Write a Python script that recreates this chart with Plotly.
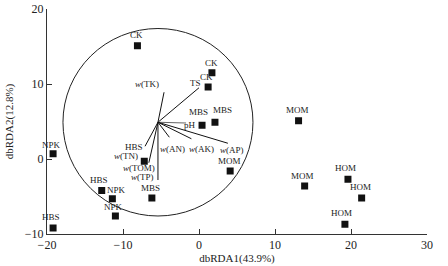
import plotly.graph_objects as go

# Sample points (dbRDA1, dbRDA2)
sample_labels = ["CK", "CK", "CK",
                 "MBS", "MBS", "MBS",
                 "MOM", "MOM", "MOM",
                 "HOM", "HOM", "HOM",
                 "NPK", "NPK", "NPK",
                 "HBS", "HBS", "HBS"]
sample_x = [-8.1, 1.7, 1.2,
            2.1, 0.4, -6.2,
            4.1, 13.1, 13.9,
            19.6, 21.4, 19.2,
            -19.2, -11.4, -11.0,
            -19.2, -12.8, -7.2]
sample_y = [15.1, 11.5, 9.6,
            4.9, 4.5, -5.2,
            -1.6, 5.1, -3.6,
            -2.7, -5.2, -8.7,
            0.7, -5.3, -7.6,
            -9.2, -4.2, -0.3]

# Environmental vectors (origin + tips)
vec_origin = (-5.4, 4.9)
vec_labels = ["<i>w</i>(TK)", "TS", "pH", "<i>w</i>(AN)", "<i>w</i>(AK)",
              "<i>w</i>(AP)", "<i>w</i>(TN)", "<i>w</i>(TOM)", "<i>w</i>(TP)"]
vec_x = [-4.6, 0.0, -1.7, -3.9, -1.0, 3.8, -7.1, -6.6, -5.4]
vec_y = [8.9, 9.5, 4.8, 2.9, 2.7, 2.1, 1.7, -0.5, -2.8]
circle_radius = 12.5

# label pixel offsets (style)
sample_off = [(-1, 11), (0, 10), (-2, 10),
              (8, 12), (-4, 13), (-1, 10),
              (-1, 10), (-1, 11), (-2, 10),
              (-2, 11), (-1, 11), (-3, 11),
              (-2, 9), (4, 9), (-2, 9),
              (-2, 11), (-3, 11), (-10, 14)]
vec_off = [(-17, 8), (-4, 5), (4, -2), (3, -12), (10, -10),
           (4, -7), (-19, -10), (-10, -5), (-15, 3)]

FONT = "Liberation Serif"
TXT = "#222222"

fig = go.Figure()

# vectors
for vx, vy, lab in zip(vec_x, vec_y, vec_labels):
    fig.add_trace(go.Scatter(
        x=[vec_origin[0], vx], y=[vec_origin[1], vy], mode="lines",
        line=dict(color="#666666" if lab == "pH" else "#111111", width=1),
        hoverinfo="skip", showlegend=False))

# samples
fig.add_trace(go.Scatter(
    x=sample_x, y=sample_y, mode="markers",
    marker=dict(symbol="square", size=7, color="#111111"),
    showlegend=False))

annotations = []
for x, y, t, (dx, dy) in zip(sample_x, sample_y, sample_labels, sample_off):
    annotations.append(dict(x=x, y=y, xref="x", yref="y", text=t, showarrow=False,
                            xshift=dx, yshift=dy,
                            font=dict(family=FONT, size=9, color=TXT)))
for x, y, t, (dx, dy) in zip(vec_x, vec_y, vec_labels, vec_off):
    annotations.append(dict(x=x, y=y, xref="x", yref="y", text=t, showarrow=False,
                            xshift=dx, yshift=dy,
                            font=dict(family=FONT, size=9, color=TXT)))

fig.add_shape(type="circle", xref="x", yref="y",
              x0=vec_origin[0] - circle_radius, x1=vec_origin[0] + circle_radius,
              y0=vec_origin[1] - circle_radius, y1=vec_origin[1] + circle_radius,
              line=dict(color="#222222", width=1))

axis_common = dict(showgrid=False, zeroline=False, showline=True, linecolor="#333333",
                   linewidth=1, ticks="inside", ticklen=5, tickcolor="#333333",
                   automargin=False,
                   tickfont=dict(family=FONT, size=12, color=TXT))

fig.update_layout(
    width=448, height=266,
    margin=dict(l=47, r=21, t=9, b=32),
    paper_bgcolor="white", plot_bgcolor="white",
    annotations=annotations,
    xaxis=dict(range=[-20, 30], dtick=10, title=dict(text="dbRDA1(43.9%)", standoff=2,
               font=dict(family=FONT, size=11, color=TXT)), **axis_common),
    yaxis=dict(range=[-10, 20], dtick=10, title=dict(text="dbRDA2(12.8%)", standoff=8,
               font=dict(family=FONT, size=11, color=TXT)), **axis_common),
)

fig.write_html("out.html", config={"displayModeBar": False},
               post_script="document.body.style.margin='0';document.body.style.overflow='hidden';")
